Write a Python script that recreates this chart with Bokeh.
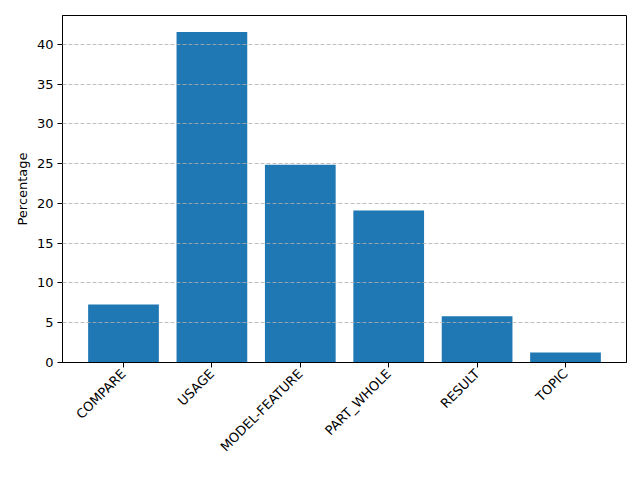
import math
from bokeh.plotting import figure
from bokeh.models import FactorRange, Range1d, ColumnDataSource, SingleIntervalTicker
from bokeh.embed import file_html
from bokeh.resources import INLINE

categories = ["COMPARE", "USAGE", "MODEL-FEATURE", "PART_WHOLE", "RESULT", "TOPIC"]
percentages = [7.3, 41.55, 24.85, 19.1, 5.8, 1.26]
y_label = "Percentage"

src = ColumnDataSource(dict(cat=categories, val=percentages))

p = figure(x_range=FactorRange(factors=categories, range_padding=0.19, range_padding_units="absolute"),
           y_range=Range1d(0, max(percentages) * 1.05),
           frame_width=564, frame_height=347,
           min_border_left=62, min_border_right=10, min_border_top=15, min_border_bottom=112,
           output_backend="svg", toolbar_location=None)

p.vbar(x="cat", top="val", width=0.8, source=src, fill_color="#1f77b4", line_color=None)

font = "DejaVu Sans"
p.outline_line_color = "black"
p.outline_line_width = 1
p.xgrid.visible = False
p.ygrid.grid_line_color = "#b0b0b0"
p.ygrid.grid_line_dash = "4 2"
p.ygrid.grid_line_alpha = 0.8
p.ygrid.level = "overlay"

p.yaxis.ticker = SingleIntervalTicker(interval=5)
for ax in (p.xaxis[0], p.yaxis[0]):
    ax.axis_line_color = "black"
    ax.major_tick_out = 5
    ax.major_tick_in = 0
    ax.minor_tick_out = 0
    ax.minor_tick_in = 0
    ax.major_label_text_font = font
    ax.major_label_text_font_size = "13px"
    ax.major_label_text_color = "black"
    ax.major_label_standoff = 4

p.xaxis.major_label_orientation = math.pi / 4
p.yaxis.axis_label = y_label
p.yaxis.axis_label_text_font = font
p.yaxis.axis_label_text_font_size = "13px"
p.yaxis.axis_label_text_font_style = "normal"
p.yaxis.axis_label_text_color = "black"
p.yaxis.axis_label_standoff = 4

open("out.html", "w").write(file_html(p, INLINE))
